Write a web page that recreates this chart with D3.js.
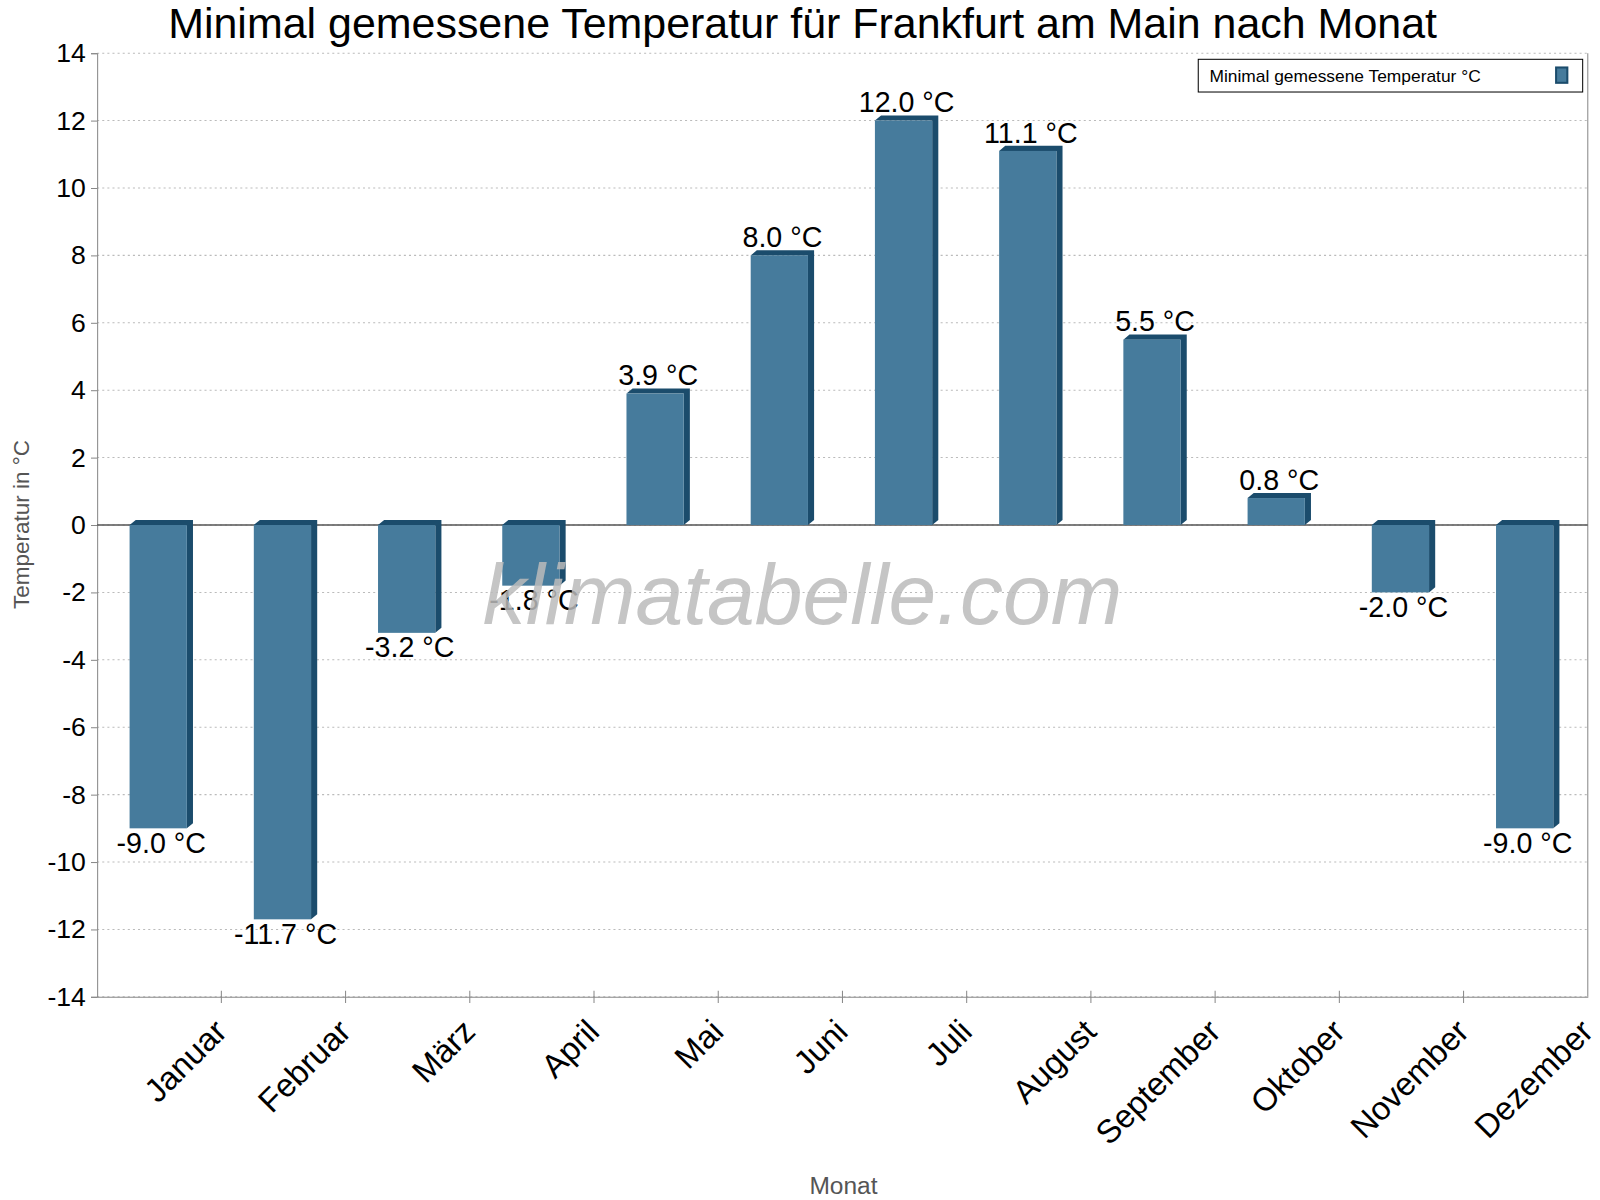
<!DOCTYPE html><html><head><meta charset="utf-8"><script src="https://cdn.jsdelivr.net/npm/d3@7"></script>
<style>body{margin:0;background:#fff}text{font-family:Arial,"Liberation Sans",sans-serif}</style></head><body>
<svg id="c" width="1600" height="1200"></svg>
<script>
const months=["Januar","Februar","März","April","Mai","Juni","Juli","August","September","Oktober","November","Dezember"];
const values=[-9.0,-11.7,-3.2,-1.8,3.9,8.0,12.0,11.1,5.5,0.8,-2.0,-9.0];
const yTicks=[-14,-12,-10,-8,-6,-4,-2,0,2,4,6,8,10,12,14];
const svg=d3.select("#c").append("g").attr("transform","scale(1.0224)");
const L=95,R=1553,T=52,B=975;
const x=d3.scaleBand().domain(months).range([L,R]);
const y=d3.scaleLinear().domain([-14,14]).range([B,T]);
svg.append("text").attr("x",785).attr("y",37).attr("text-anchor","middle").attr("font-size",42).text("Minimal gemessene Temperatur für Frankfurt am Main nach Monat");
svg.selectAll(".g").data(yTicks).join("line").attr("x1",L).attr("x2",R).attr("y1",d=>y(d)).attr("y2",d=>y(d)).attr("stroke","#bbb").attr("stroke-dasharray","2,3");
const ya=svg.append("g").attr("transform",`translate(${L},0)`).call(d3.axisLeft(y).tickValues(yTicks).tickSize(6).tickFormat(d=>String(d)));
ya.selectAll("text").attr("font-size",26).attr("fill","#000").attr("dx",-2);
ya.select(".domain").attr("stroke","#888");ya.selectAll(".tick line").attr("stroke","#888");
svg.append("line").attr("x1",R).attr("x2",R).attr("y1",T).attr("y2",B).attr("stroke","#888");
const xa=svg.append("g").attr("transform",`translate(0,${B})`).call(d3.axisBottom(x).tickSize(0).tickFormat(""));
xa.select(".domain").attr("stroke","#888");
svg.selectAll(".xt").data(months.slice(1)).join("line").attr("x1",d=>x(d)).attr("x2",d=>x(d)).attr("y1",B-6).attr("y2",B+6).attr("stroke","#888");
svg.selectAll(".xl").data(months).join("text").attr("font-size",32).attr("text-anchor","end")
 .attr("transform",d=>`translate(${x(d)+x.bandwidth()/2+52},${B+20}) rotate(-45)`).attr("dy","0.7em").text(d=>d);
svg.append("line").attr("x1",L).attr("x2",R).attr("y1",y(0)).attr("y2",y(0)).attr("stroke","#555").attr("stroke-width",1.5);
const bw=56,dp=6;
const g=svg.selectAll(".bar").data(values).join("g");
g.each(function(v,i){
 const s=d3.select(this);const x0=x(months[i])+x.bandwidth()/2-29;
 const top=y(Math.max(v,0)),bot=y(Math.min(v,0));
 s.append("polygon").attr("points",`${x0},${top} ${x0+dp},${top-5} ${x0+bw+dp},${top-5} ${x0+bw+dp},${bot-5} ${x0+bw},${bot} ${x0+bw},${top}`).attr("fill","#1b4c6c");
 s.append("rect").attr("x",x0).attr("y",top).attr("width",bw).attr("height",bot-top).attr("fill","#467b9c");
 s.append("text").attr("x",x0+bw/2+3).attr("y",v>=0?top-8:bot+24).attr("text-anchor","middle").attr("font-size",28).text(v.toFixed(1)+" °C");
});
svg.append("text").attr("x",785).attr("y",610).attr("text-anchor","middle").attr("font-size",84).attr("font-style","italic").attr("fill","#bbb").attr("opacity",0.85).text("klimatabelle.com");
svg.append("text").attr("transform","translate(28,513) rotate(-90)").attr("text-anchor","middle").attr("font-size",22).attr("fill","#555").text("Temperatur in °C");
svg.append("text").attr("x",825).attr("y",1168).attr("text-anchor","middle").attr("font-size",24).attr("fill","#555").text("Monat");
svg.append("rect").attr("x",1172).attr("y",58).attr("width",376).attr("height",32).attr("fill","#fff").attr("stroke","#000");
svg.append("text").attr("x",1183).attr("y",80).attr("font-size",17).text("Minimal gemessene Temperatur °C");
svg.append("rect").attr("x",1522).attr("y",66).attr("width",11).attr("height",15).attr("fill","#467b9c").attr("stroke","#1b4c6c").attr("stroke-width",2);
</script></body></html>
